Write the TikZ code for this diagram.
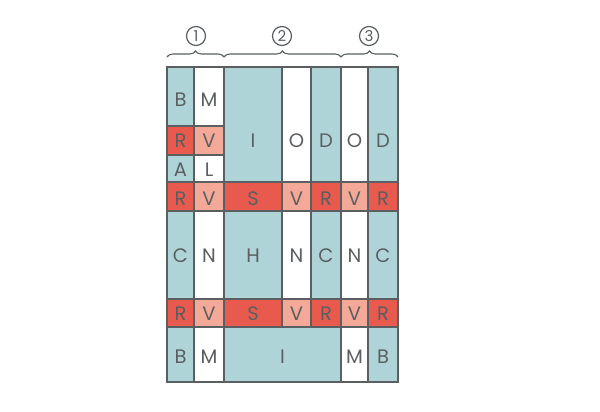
\documentclass[tikz,border=0pt]{standalone}
\usepackage{fontspec}
\setmainfont{Poppins}
\usetikzlibrary{decorations.pathreplacing}
\definecolor{gridink}{HTML}{5B5F61}
\definecolor{cellteal}{HTML}{AED4D8}
\definecolor{cellred}{HTML}{E95A4E}
\definecolor{cellpink}{HTML}{F3A898}
\definecolor{cellblank}{HTML}{FFFFFF}

\begin{document}
\begin{tikzpicture}[
  x=1pt,
  y=-1pt,
  every node/.style={font=\fontsize{19.5}{19.5}\selectfont, gridink},
  cell/.style={draw=gridink, line width=1.8pt},
  bracket/.style={gridink, line width=1.1pt, decorate,
                  decoration={brace, amplitude=6pt}},
  group/.style={circle, draw=gridink, line width=1.2pt, minimum size=19pt,
                inner sep=0pt, font=\fontsize{15}{15}\selectfont}
]
  \useasboundingbox (0,0) rectangle (600,412);

  % ---- cells: left/top/right/bottom, fill, letter, height of the letter ----
  \foreach \xa/\ya/\xb/\yb/\col/\txt/\ty [count=\i] in {
      167/67/194/126/cellteal/B/100,   194/67/224/126/cellblank/M/100,
      167/126/194/155/cellred/R/140.5, 194/126/224/155/cellpink/V/140.5,
      167/155/194/182/cellteal/A/170,  194/155/224/182/cellblank/L/170,
      224/67/282/182/cellteal/I/141,   282/67/311/182/cellblank/O/141,
      311/67/341/182/cellteal/D/141,   341/67/368/182/cellblank/O/141,
      368/67/398/182/cellteal/D/141,
      167/182/194/211/cellred/R/198.5, 194/182/224/211/cellpink/V/198.5,
      224/182/282/211/cellred/S/198.5, 282/182/311/211/cellpink/V/198.5,
      311/182/341/211/cellred/R/198.5, 341/182/368/211/cellpink/V/198.5,
      368/182/398/211/cellred/R/198.5,
      167/211/194/299/cellteal/C/256,  194/211/224/299/cellblank/N/256,
      224/211/282/299/cellteal/H/256,  282/211/311/299/cellblank/N/256,
      311/211/341/299/cellteal/C/256,  341/211/368/299/cellblank/N/256,
      368/211/398/299/cellteal/C/256,
      167/299/194/327/cellred/R/313.5, 194/299/224/327/cellpink/V/313.5,
      224/299/282/327/cellred/S/313.5, 282/299/311/327/cellpink/V/313.5,
      311/299/341/327/cellred/R/313.5, 341/299/368/327/cellpink/V/313.5,
      368/299/398/327/cellred/R/313.5,
      167/327/194/382/cellteal/B/357,  194/327/224/382/cellblank/M/357,
      224/327/341/382/cellteal/I/357,  341/327/368/382/cellblank/M/357,
      368/327/398/382/cellteal/B/357}
  {
    \draw[cell, fill=\col] (\xa,\ya) rectangle (\xb,\yb);
    \node (cell\i) at ({(\xa+\xb)/2},\ty) {\txt};
  }

  % ---- groups over the columns ----
  \draw[bracket] (167,57) -- (224,57);
  \draw[bracket] (224,57) -- (341,57);
  \draw[bracket] (341,57) -- (398,57);
  \node[group] (grp1) at (196,36) {1};
  \node[group] (grp2) at (282,36) {2};
  \node[group] (grp3) at (369,36) {3};
\end{tikzpicture}
\end{document}
